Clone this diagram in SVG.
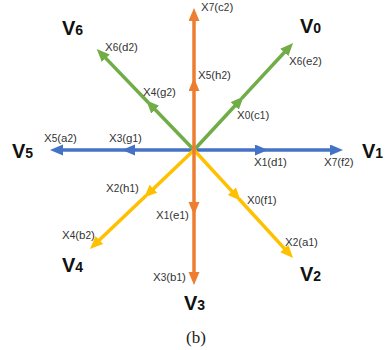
<svg xmlns="http://www.w3.org/2000/svg" width="386" height="350" viewBox="0 0 386 350">
<style>
.lbl{font-family:"Liberation Sans","Open Sans",sans-serif;font-size:11.5px;fill:#333}
.lbl tspan.d{font-size:10px}
.v{font-family:"Liberation Sans",Arial,sans-serif;font-size:20px;font-weight:bold;fill:#111}
.v tspan{font-size:14px}
.cap{font-family:"Liberation Serif","Times New Roman",serif;font-size:17px;fill:#222}
line{stroke-width:3.5;fill:none}
.b{stroke:#4472C4}.o{stroke:#ED7D31}.g{stroke:#70AD47}.y{stroke:#FFC000}
</style>
<defs>
<marker id="mb" markerUnits="userSpaceOnUse" markerWidth="14" markerHeight="12" refX="4" refY="5.5" orient="auto"><path d="M0,0 L13,5.5 L0,11 z" fill="#4472C4"/></marker>
<marker id="mo" markerUnits="userSpaceOnUse" markerWidth="14" markerHeight="12" refX="4" refY="5.5" orient="auto"><path d="M0,0 L13,5.5 L0,11 z" fill="#ED7D31"/></marker>
<marker id="mg" markerUnits="userSpaceOnUse" markerWidth="14" markerHeight="12" refX="4" refY="5.5" orient="auto"><path d="M0,0 L13,5.5 L0,11 z" fill="#70AD47"/></marker>
<marker id="my" markerUnits="userSpaceOnUse" markerWidth="14" markerHeight="12" refX="4" refY="5.5" orient="auto"><path d="M0,0 L13,5.5 L0,11 z" fill="#FFC000"/></marker>
</defs>
<g id="connectors">
<line class="b" x1="194" y1="150" x2="259" y2="150" marker-end="url(#mb)"/>
<line class="b" x1="258" y1="150" x2="334" y2="150" marker-end="url(#mb)"/>
<line class="b" x1="194" y1="150" x2="131" y2="150" marker-end="url(#mb)"/>
<line class="b" x1="132" y1="150" x2="59" y2="150" marker-end="url(#mb)"/>
<line class="g" x1="194" y1="150" x2="237.5" y2="103" marker-end="url(#mg)"/>
<line class="g" x1="241.5" y1="98.6" x2="287" y2="49.5" marker-end="url(#mg)"/>
<line class="g" x1="194" y1="150" x2="152.4" y2="106.8" marker-end="url(#mg)"/>
<line class="g" x1="148.5" y1="102.7" x2="103" y2="55.4" marker-end="url(#mg)"/>
<line class="y" x1="194" y1="150" x2="150.6" y2="191.4" marker-end="url(#my)"/>
<line class="y" x1="146.2" y1="195.5" x2="96.5" y2="242.8" marker-end="url(#my)"/>
<line class="y" x1="194" y1="150" x2="234.6" y2="194.1" marker-end="url(#my)"/>
<line class="y" x1="238.6" y1="198.5" x2="287" y2="251.4" marker-end="url(#my)"/>
<line class="o" x1="194" y1="150" x2="194" y2="87" marker-end="url(#mo)"/>
<line class="o" x1="194" y1="88" x2="194" y2="17" marker-end="url(#mo)"/>
<line class="o" x1="194" y1="150" x2="194" y2="206" marker-end="url(#mo)"/>
<line class="o" x1="194" y1="209" x2="194" y2="276" marker-end="url(#mo)"/>
</g>
<g id="vectors">
<text class="v" x="62" y="35">V<tspan>6</tspan></text>
<text class="v" x="300" y="33">V<tspan>0</tspan></text>
<text class="v" x="12" y="158">V<tspan>5</tspan></text>
<text class="v" x="362" y="158">V<tspan>1</tspan></text>
<text class="v" x="62" y="272">V<tspan>4</tspan></text>
<text class="v" x="300" y="281">V<tspan>2</tspan></text>
<text class="v" x="184" y="310">V<tspan>3</tspan></text>
</g>
<g id="labels">
<text class="lbl" x="201" y="11">X<tspan class="d">7</tspan>(c<tspan class="d">2</tspan>)</text>
<text class="lbl" x="105" y="51">X<tspan class="d">6</tspan>(d<tspan class="d">2</tspan>)</text>
<text class="lbl" x="289" y="65">X<tspan class="d">6</tspan>(e<tspan class="d">2</tspan>)</text>
<text class="lbl" x="198" y="79">X<tspan class="d">5</tspan>(h<tspan class="d">2</tspan>)</text>
<text class="lbl" x="143" y="96">X<tspan class="d">4</tspan>(g<tspan class="d">2</tspan>)</text>
<text class="lbl" x="237" y="119">X<tspan class="d">0</tspan>(c<tspan class="d">1</tspan>)</text>
<text class="lbl" x="44" y="142">X<tspan class="d">5</tspan>(a<tspan class="d">2</tspan>)</text>
<text class="lbl" x="109" y="142">X<tspan class="d">3</tspan>(g<tspan class="d">1</tspan>)</text>
<text class="lbl" x="254" y="166">X<tspan class="d">1</tspan>(d<tspan class="d">1</tspan>)</text>
<text class="lbl" x="324" y="166">X<tspan class="d">7</tspan>(f<tspan class="d">2</tspan>)</text>
<text class="lbl" x="106" y="192">X<tspan class="d">2</tspan>(h<tspan class="d">1</tspan>)</text>
<text class="lbl" x="247" y="204">X<tspan class="d">0</tspan>(f<tspan class="d">1</tspan>)</text>
<text class="lbl" x="156" y="219">X<tspan class="d">1</tspan>(e<tspan class="d">1</tspan>)</text>
<text class="lbl" x="62" y="239">X<tspan class="d">4</tspan>(b<tspan class="d">2</tspan>)</text>
<text class="lbl" x="285" y="246">X<tspan class="d">2</tspan>(a<tspan class="d">1</tspan>)</text>
<text class="lbl" x="153" y="281">X<tspan class="d">3</tspan>(b<tspan class="d">1</tspan>)</text>
</g>
<text class="cap" x="186" y="343">(b)</text>
</svg>
